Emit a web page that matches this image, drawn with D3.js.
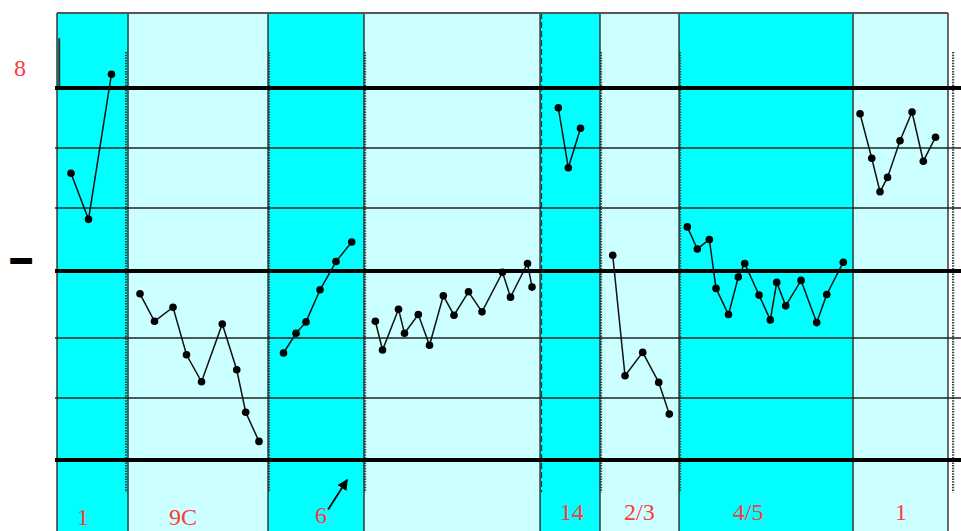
<!DOCTYPE html>
<html><head><meta charset="utf-8">
<script src="https://cdn.jsdelivr.net/npm/d3@7"></script>
<style>html,body{margin:0;padding:0;background:#fff;overflow:hidden}</style>
</head><body><svg id="c" width="961" height="531"></svg>
<script>
// ---- data ----
const phaseBounds = [0, 11.16, 33.16, 48.24, 75.9, 85.32, 97.74, 125.08, 140];
const phaseLabels = ["1", "9C", "6", "", "14", "2/3", "4/5", "1"];
const labelDays   = [4.1, 19.8, 41.5, null, 80.9, 91.5, 108.6, 132.6];
const labelLevels = [-1.05, -1.05, -1.02, null, -0.97, -0.97, -0.97, -0.97];
const gridLevels  = [0, 1, 2, 3, 4, 5, 6];
const majorLevels = [0, 3, 6];
const phaseMarks  = [10.84, 33.31, 48.40, 85.48, 97.9, 140.8];
const dashedMarks = [76.13];
const arrowFrom = [42.6, -0.8];
const arrowTo   = [45.6, -0.32];

const days1 = [2.2, 4.95, 8.56];
const vals1 = [4.58, 3.82, 6.23];
const days2 = [13.04, 15.32, 18.23, 20.35, 22.71, 25.97, 28.24, 29.65, 31.74];
const vals2 = [2.66, 2.25, 2.46, 1.72, 1.27, 2.21, 1.47, 0.77, 0.30];
const days3 = [35.59, 37.56, 39.13, 41.33, 43.84, 46.31];
const vals3 = [1.75, 2.07, 2.24, 2.72, 3.15, 3.46];
const days4 = [50.02, 51.15, 53.66, 54.6, 56.77, 58.53, 60.7, 62.38, 64.66, 66.78, 70.0, 71.26, 73.93, 74.64];
const vals4 = [2.25, 1.80, 2.43, 2.07, 2.35, 1.88, 2.63, 2.34, 2.69, 2.39, 2.98, 2.61, 3.12, 2.76];
const days5 = [78.77, 80.34, 82.26];
const vals5 = [5.67, 4.67, 5.33];
const days6 = [87.32, 89.25, 92.03, 94.55, 96.21];
const vals6 = [3.25, 1.37, 1.76, 1.26, 0.74];
const days7 = [99.04, 100.61, 102.5, 103.55, 105.51, 107.05, 108.06, 110.31, 112.08, 113.09, 114.5, 116.91, 119.37, 120.95, 123.55];
const vals7 = [3.70, 3.35, 3.50, 2.74, 2.35, 2.91, 3.12, 2.64, 2.27, 2.83, 2.48, 2.86, 2.23, 2.65, 3.14];
const days8 = [126.18, 128.02, 129.32, 130.5, 132.46, 134.35, 136.12, 138.04];
const vals8 = [5.57, 4.83, 4.27, 4.51, 5.12, 5.60, 4.78, 5.18];

const seriesDays = [days1, days2, days3, days4, days5, days6, days7, days8];
const seriesVals = [vals1, vals2, vals3, vals4, vals5, vals6, vals7, vals8];

// ---- scales ----
const svg = d3.select("#c");
const x = d3.scaleLinear().domain([0, 140]).range([57, 948]);
const y = d3.scaleLinear().domain(gridLevels).range([460, 398, 338, 271, 208, 148, 88]);
const topLevel = 7.25, bottomLevel = -1.2;

// ---- phase fills ----
const phases = d3.range(phaseBounds.length - 1).map(i => ({i, a: phaseBounds[i], b: phaseBounds[i + 1], label: phaseLabels[i]}));
svg.append("g").selectAll("rect").data(phases).join("rect")
  .attr("x", d => x(d.a)).attr("width", d => x(d.b) - x(d.a))
  .attr("y", y(topLevel)).attr("height", y(bottomLevel) - y(topLevel))
  .attr("fill", d => d.i % 2 === 0 ? "#00FFFF" : "#CCFFFF");

// ---- dotted phase marks ----
svg.append("g").selectAll("line").data(phaseMarks).join("line")
  .attr("x1", d => x(d)).attr("x2", d => x(d))
  .attr("y1", y(6.6)).attr("y2", y(-0.52))
  .attr("stroke", "#3a4a4a").attr("stroke-width", 2.2).attr("stroke-dasharray", "1.5,1.2");
svg.append("g").selectAll("line").data(dashedMarks).join("line")
  .attr("x1", d => x(d)).attr("x2", d => x(d))
  .attr("y1", y(topLevel)).attr("y2", y(-0.52))
  .attr("stroke", "#1a3a3a").attr("stroke-width", 1.3).attr("stroke-dasharray", "6,3");
svg.append("line").attr("x1", x(0.35)).attr("x2", x(0.35)).attr("y1", y(6.83)).attr("y2", y(6))
  .attr("stroke", "#333").attr("stroke-width", 2);

// ---- phase boundaries ----
svg.append("g").selectAll("line").data(phaseBounds).join("line")
  .attr("x1", d => x(d)).attr("x2", d => x(d))
  .attr("y1", y(topLevel)).attr("y2", y(bottomLevel))
  .attr("stroke", "#2b2b2b").attr("stroke-width", 1.4);
svg.append("line").attr("x1", x(0)).attr("x2", x(140)).attr("y1", y(topLevel)).attr("y2", y(topLevel))
  .attr("stroke", "#555").attr("stroke-width", 2);

// ---- horizontal grid ----
svg.append("g").selectAll("line").data(gridLevels).join("line")
  .attr("x1", 55).attr("x2", 961)
  .attr("y1", d => y(d)).attr("y2", d => y(d))
  .attr("stroke", d => majorLevels.includes(d) ? "#000" : "#222")
  .attr("stroke-width", d => majorLevels.includes(d) ? 4 : 1.4);

// ---- series ----
const line = d3.line().x(d => x(d[0])).y(d => y(d[1]));
seriesDays.forEach((ds, k) => {
  const pts = ds.map((d, j) => [d, seriesVals[k][j]]);
  svg.append("path").attr("d", line(pts)).attr("fill", "none").attr("stroke", "#111").attr("stroke-width", 1.5);
  svg.append("g").selectAll("circle").data(pts).join("circle")
    .attr("cx", d => x(d[0])).attr("cy", d => y(d[1])).attr("r", 3.8).attr("fill", "#000");
});

// ---- phase labels ----
svg.append("g").selectAll("text").data(phases.filter(d => d.label)).join("text")
  .attr("x", d => x(labelDays[d.i])).attr("y", d => y(labelLevels[d.i]))
  .attr("text-anchor", "middle").attr("font-family", "Liberation Serif, Times New Roman, serif")
  .attr("font-size", 24).attr("fill", "#ff3a3a").text(d => d.label);

// ---- arrow ----
const defs = svg.append("defs");
defs.append("marker").attr("id", "ah").attr("viewBox", "0 0 10 10").attr("refX", 9).attr("refY", 5)
  .attr("markerWidth", 6).attr("markerHeight", 6).attr("orient", "auto")
  .append("path").attr("d", "M0,0 L10,5 L0,10 Z").attr("fill", "#000");
svg.append("line").attr("x1", x(arrowFrom[0])).attr("y1", y(arrowFrom[1]))
  .attr("x2", x(arrowTo[0])).attr("y2", y(arrowTo[1]))
  .attr("stroke", "#000").attr("stroke-width", 1.8).attr("marker-end", "url(#ah)");

// ---- left axis marks ----
svg.append("text").attr("x", 20).attr("y", 76).attr("text-anchor", "middle")
  .attr("font-family", "Liberation Serif, Times New Roman, serif").attr("font-size", 24)
  .attr("fill", "#ff3a3a").text("8");
svg.append("text").attr("x", 21).attr("y", 272).attr("text-anchor", "middle")
  .attr("font-family", "Liberation Sans, Arial, sans-serif").attr("font-size", 40).attr("font-weight", "bold")
  .attr("fill", "#000").attr("stroke", "#000").attr("stroke-width", 2).text("–");
</script>
</body></html>
